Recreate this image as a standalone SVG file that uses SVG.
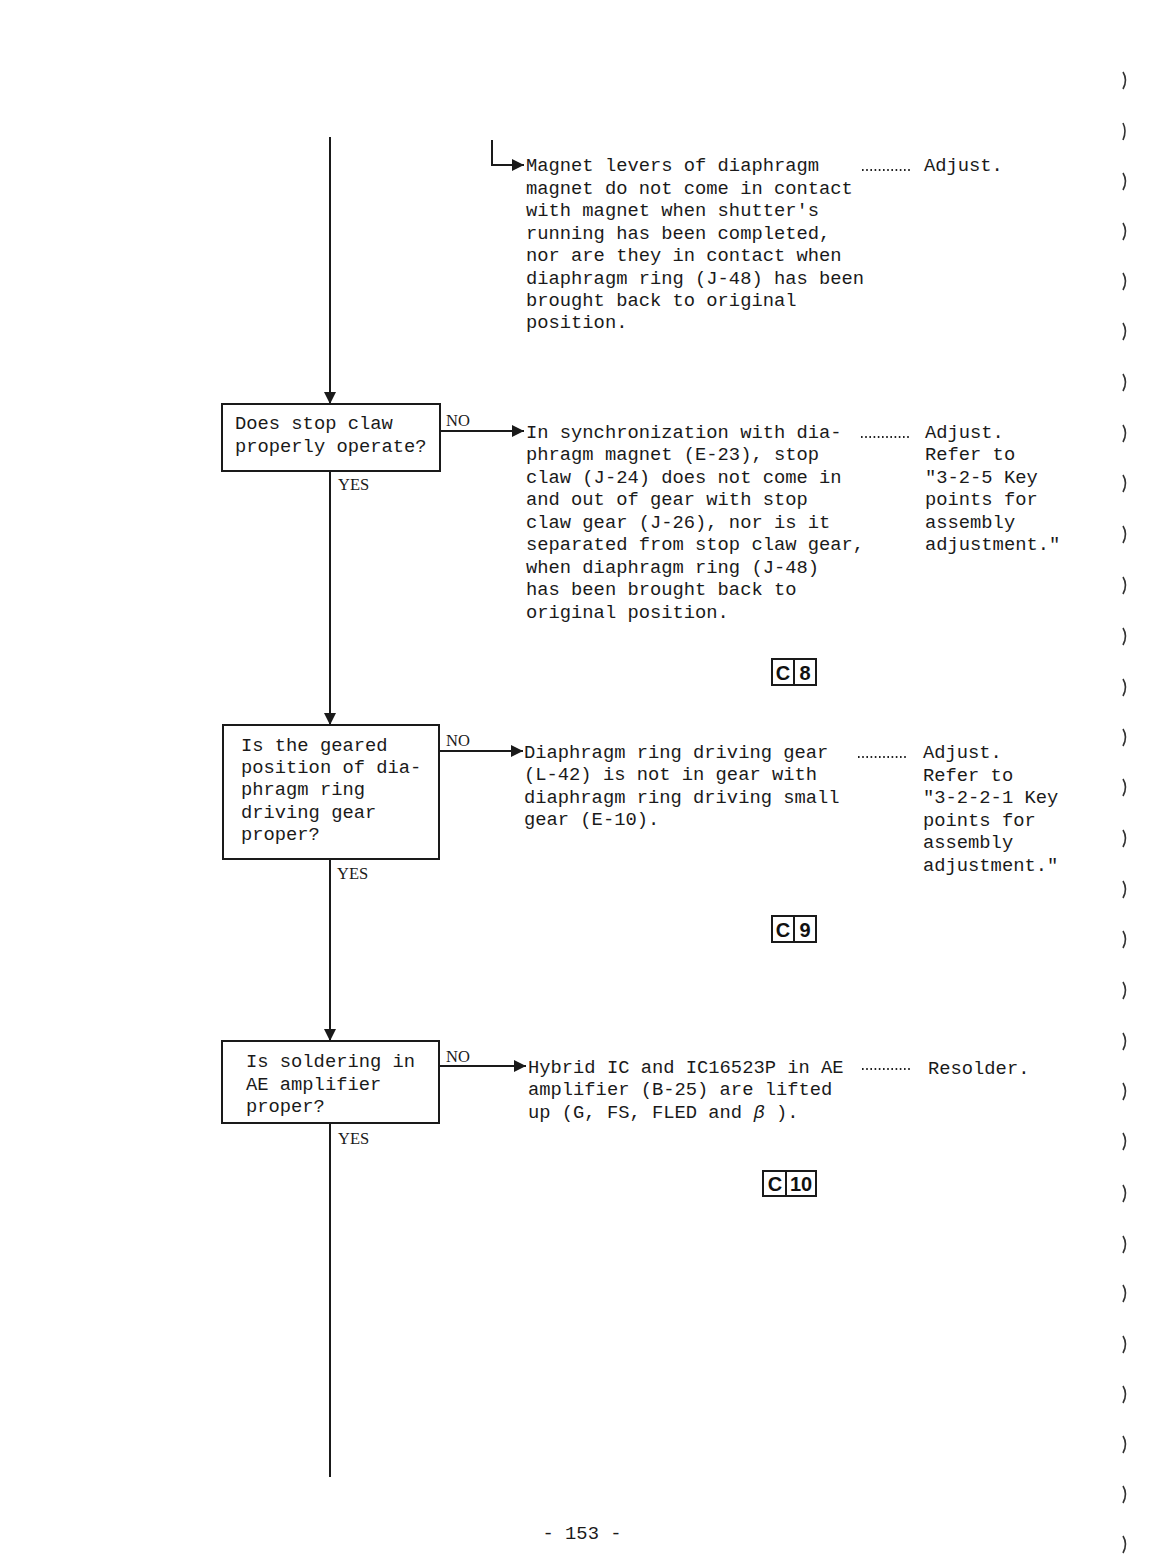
<svg xmlns="http://www.w3.org/2000/svg" width="1168" height="1566" viewBox="0 0 1168 1566">
<style>
.t{font-family:"Liberation Mono","DejaVu Sans Mono",monospace;font-size:18.8px;fill:#1a1a1a}
.lb{font-family:"Liberation Serif","DejaVu Serif",serif;font-size:16.5px;fill:#1a1a1a}
.box{fill:none;stroke:#1a1a1a;stroke-width:2}
.ln{fill:none;stroke:#1a1a1a;stroke-width:2}
.dots{fill:none;stroke:#222;stroke-width:1.8;stroke-dasharray:1.6 2.6}
.cb{font-family:"Liberation Sans","DejaVu Sans",sans-serif;font-size:20px;font-weight:bold;fill:#111}
.pm{fill:none;stroke:#333;stroke-width:1.6}
</style>
<defs>
<marker id="ah" viewBox="0 0 10 10" refX="10" refY="5" markerWidth="6" markerHeight="6" orient="auto" markerUnits="strokeWidth">
<path d="M0,0 L10,5 L0,10 z" fill="#1a1a1a"/>
</marker>
</defs>
<rect width="1168" height="1566" fill="#ffffff"/>

<g id="connectors">
<line class="ln" x1="330" y1="137" x2="330" y2="404" marker-end="url(#ah)"/>
<line class="ln" x1="330" y1="471" x2="330" y2="725" marker-end="url(#ah)"/>
<line class="ln" x1="330" y1="859" x2="330" y2="1041" marker-end="url(#ah)"/>
<line class="ln" x1="330" y1="1123" x2="330" y2="1477"/>
<path class="ln" d="M492,140 L492,165 L524,165" marker-end="url(#ah)"/>
<line class="ln" x1="440" y1="431" x2="524" y2="431" marker-end="url(#ah)"/>
<line class="ln" x1="439" y1="751" x2="523" y2="751" marker-end="url(#ah)"/>
<line class="ln" x1="439" y1="1066" x2="526" y2="1066" marker-end="url(#ah)"/>
<text class="lb" x="446" y="426">NO</text>
<text class="lb" x="338" y="490">YES</text>
<text class="lb" x="446" y="746">NO</text>
<text class="lb" x="337" y="879">YES</text>
<text class="lb" x="446" y="1062">NO</text>
<text class="lb" x="338" y="1144">YES</text>
</g>

<g id="n1">
<rect class="box" x="222" y="404" width="218" height="67"/>
<text class="t" x="235" y="429">Does stop claw</text>
<text class="t" x="235" y="452">properly operate?</text>
</g>

<g id="n2">
<rect class="box" x="223" y="725" width="216" height="134"/>
<text class="t" x="241" y="751">Is the geared</text>
<text class="t" x="241" y="773">position of dia-</text>
<text class="t" x="241" y="795">phragm ring</text>
<text class="t" x="241" y="818">driving gear</text>
<text class="t" x="241" y="840">proper?</text>
</g>

<g id="n3">
<rect class="box" x="222" y="1041" width="217" height="82"/>
<text class="t" x="246" y="1067">Is soldering in</text>
<text class="t" x="246" y="1090">AE amplifier</text>
<text class="t" x="246" y="1112">proper?</text>
</g>

<g id="r0">
<text class="t" x="526" y="171">Magnet levers of diaphragm</text>
<text class="t" x="526" y="194">magnet do not come in contact</text>
<text class="t" x="526" y="216">with magnet when shutter's</text>
<text class="t" x="526" y="239">running has been completed,</text>
<text class="t" x="526" y="261">nor are they in contact when</text>
<text class="t" x="526" y="284">diaphragm ring (J-48) has been</text>
<text class="t" x="526" y="306">brought back to original</text>
<text class="t" x="526" y="328">position.</text>
<line class="dots" x1="862" y1="170" x2="910" y2="170"/>
<text class="t" x="924" y="171">Adjust.</text>
</g>

<g id="r1">
<text class="t" x="526" y="438">In synchronization with dia-</text>
<text class="t" x="526" y="460">phragm magnet (E-23), stop</text>
<text class="t" x="526" y="483">claw (J-24) does not come in</text>
<text class="t" x="526" y="505">and out of gear with stop</text>
<text class="t" x="526" y="528">claw gear (J-26), nor is it</text>
<text class="t" x="526" y="550">separated from stop claw gear,</text>
<text class="t" x="526" y="573">when diaphragm ring (J-48)</text>
<text class="t" x="526" y="595">has been brought back to</text>
<text class="t" x="526" y="618">original position.</text>
<line class="dots" x1="861" y1="437" x2="909" y2="437"/>
<text class="t" x="925" y="438">Adjust.</text>
<text class="t" x="925" y="460">Refer to</text>
<text class="t" x="925" y="483">"3-2-5 Key</text>
<text class="t" x="925" y="505">points for</text>
<text class="t" x="925" y="528">assembly</text>
<text class="t" x="925" y="550">adjustment."</text>
</g>

<g id="c8">
<rect class="box" x="772" y="659" width="44" height="26" stroke-width="1.6"/>
<line class="ln" x1="794" y1="659" x2="794" y2="685" stroke-width="1.4"/>
<text class="cb" x="783" y="680" text-anchor="middle">C</text>
<text class="cb" x="805" y="680" text-anchor="middle">8</text>
</g>

<g id="r2">
<text class="t" x="524" y="758">Diaphragm ring driving gear</text>
<text class="t" x="524" y="780">(L-42) is not in gear with</text>
<text class="t" x="524" y="803">diaphragm ring driving small</text>
<text class="t" x="524" y="825">gear (E-10).</text>
<line class="dots" x1="858" y1="757" x2="906" y2="757"/>
<text class="t" x="923" y="758">Adjust.</text>
<text class="t" x="923" y="781">Refer to</text>
<text class="t" x="923" y="803">"3-2-2-1 Key</text>
<text class="t" x="923" y="826">points for</text>
<text class="t" x="923" y="848">assembly</text>
<text class="t" x="923" y="871">adjustment."</text>
</g>

<g id="c9">
<rect class="box" x="772" y="916" width="44" height="26" stroke-width="1.6"/>
<line class="ln" x1="794" y1="916" x2="794" y2="942" stroke-width="1.4"/>
<text class="cb" x="783" y="937" text-anchor="middle">C</text>
<text class="cb" x="805" y="937" text-anchor="middle">9</text>
</g>

<g id="r3">
<text class="t" x="528" y="1073">Hybrid IC and IC16523P in AE</text>
<text class="t" x="528" y="1095">amplifier (B-25) are lifted</text>
<text class="t" x="528" y="1118">up (G, FS, FLED and <tspan font-style="italic">β</tspan> ).</text>
<line class="dots" x1="862" y1="1069" x2="910" y2="1069"/>
<text class="t" x="928" y="1074">Resolder.</text>
</g>

<g id="c10">
<rect class="box" x="763" y="1171" width="53" height="25" stroke-width="1.6"/>
<line class="ln" x1="786" y1="1171" x2="786" y2="1196" stroke-width="1.4"/>
<text class="cb" x="775" y="1191" text-anchor="middle">C</text>
<text class="cb" x="801" y="1191" text-anchor="middle">10</text>
</g>

<text class="t" x="582" y="1539" text-anchor="middle" font-size="21">- 153 -</text>

<g id="scan-marks">
<path class="pm" d="M1123,72 q5,8 0,17"/>
<path class="pm" d="M1123,123 q4,8 0,17"/>
<path class="pm" d="M1123,173 q5,8 0,17"/>
<path class="pm" d="M1123,223 q5,8 0,17"/>
<path class="pm" d="M1123,273 q5,8 0,17"/>
<path class="pm" d="M1123,323 q5,8 0,17"/>
<path class="pm" d="M1123,374 q5,8 0,17"/>
<path class="pm" d="M1123,425 q5,8 0,17"/>
<path class="pm" d="M1123,475 q5,8 0,17"/>
<path class="pm" d="M1123,526 q5,8 0,17"/>
<path class="pm" d="M1123,577 q5,8 0,17"/>
<path class="pm" d="M1123,628 q5,8 0,17"/>
<path class="pm" d="M1123,679 q5,8 0,17"/>
<path class="pm" d="M1123,729 q5,8 0,17"/>
<path class="pm" d="M1123,779 q5,8 0,17"/>
<path class="pm" d="M1123,830 q5,8 0,17"/>
<path class="pm" d="M1123,881 q5,8 0,17"/>
<path class="pm" d="M1123,931 q5,8 0,17"/>
<path class="pm" d="M1123,982 q5,8 0,17"/>
<path class="pm" d="M1123,1033 q5,8 0,17"/>
<path class="pm" d="M1123,1083 q5,8 0,17"/>
<path class="pm" d="M1123,1133 q5,8 0,17"/>
<path class="pm" d="M1123,1185 q5,8 0,17"/>
<path class="pm" d="M1123,1236 q5,8 0,17"/>
<path class="pm" d="M1123,1285 q5,8 0,17"/>
<path class="pm" d="M1123,1336 q5,8 0,17"/>
<path class="pm" d="M1123,1386 q5,8 0,17"/>
<path class="pm" d="M1123,1436 q5,8 0,17"/>
<path class="pm" d="M1123,1486 q5,8 0,17"/>
<path class="pm" d="M1123,1536 q5,8 0,17"/>
</g>
</svg>
